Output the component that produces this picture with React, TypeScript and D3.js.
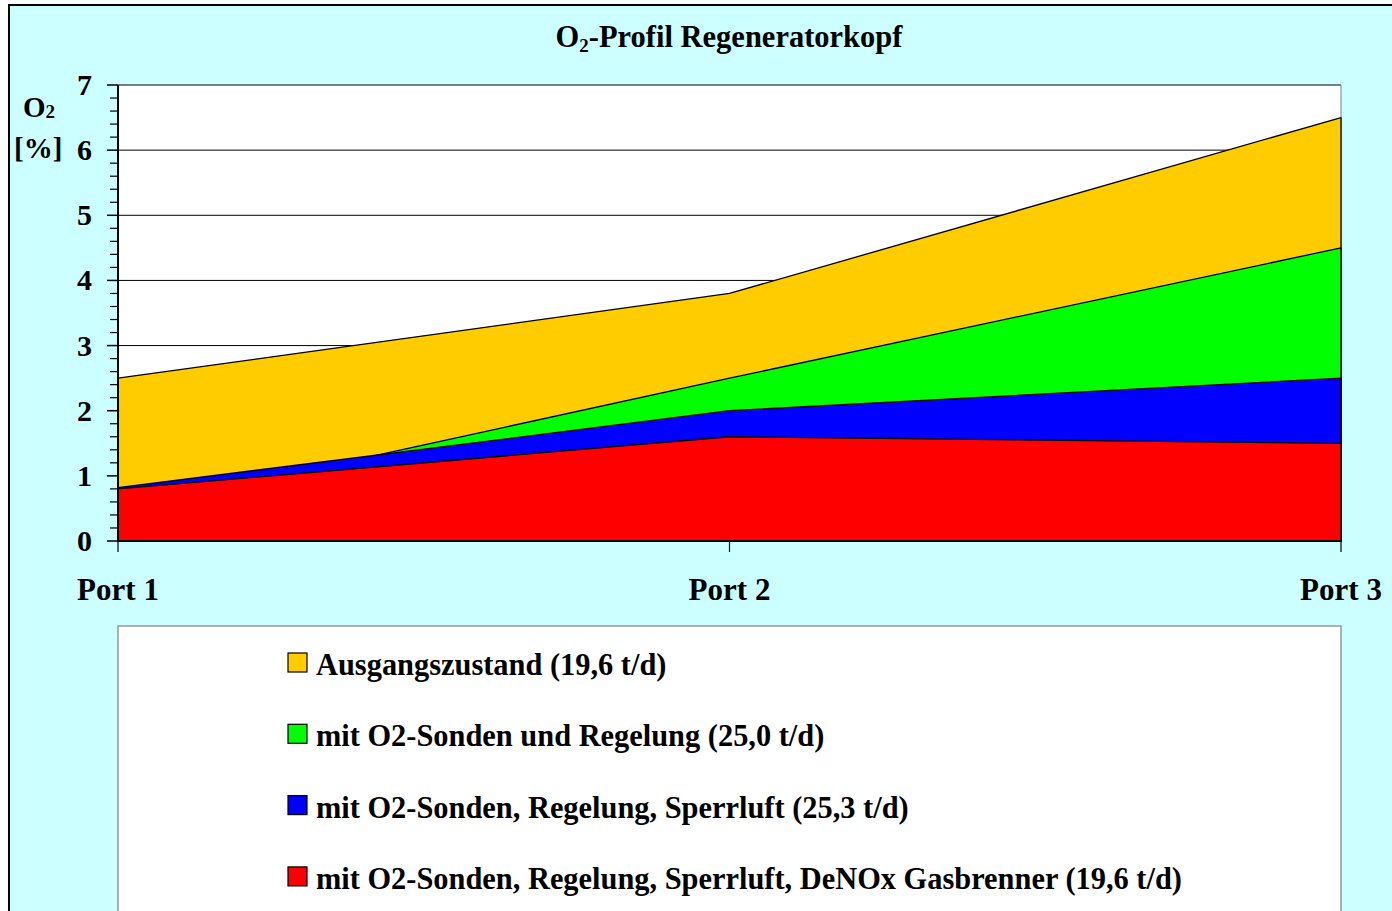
import React from "react";
import * as d3 from "d3";

const ports = ["Port 1", "Port 2", "Port 3"];
const ausgangszustand = [2.5, 3.8, 6.5];
const mitSondenRegelung = [0.45, 2.5, 4.5];
const mitSperrluft = [0.82, 2.0, 2.5];
const mitDeNOx = [0.8, 1.6, 1.5];
const yTicks = [0, 1, 2, 3, 4, 5, 6, 7];

const seriesNames = [
  "Ausgangszustand (19,6 t/d)",
  "mit O2-Sonden und Regelung (25,0 t/d)",
  "mit O2-Sonden, Regelung, Sperrluft (25,3 t/d)",
  "mit O2-Sonden, Regelung, Sperrluft, DeNOx Gasbrenner (19,6 t/d)",
];
const seriesValues = [ausgangszustand, mitSondenRegelung, mitSperrluft, mitDeNOx];
const seriesColors = ["#FFCC00", "#00FF00", "#0000FF", "#FF0000"];

const W = 1392;
const H = 911;
const plotL = 118;
const plotR = 1341;
const plotT = 85;
const plotB = 541;
const font = "'Liberation Serif', 'Times New Roman', serif";

export default function App() {
  const x = d3.scalePoint<string>().domain(ports).range([plotL, plotR]);
  const y = d3.scaleLinear().domain([0, 7]).range([plotB, plotT]);
  const area = d3
    .area<number>()
    .x((_, i) => x(ports[i]) as number)
    .y0(y(0))
    .y1((d) => y(d));
  const minor = d3.range(0, 7.001, 0.2).filter((v) => Math.abs(v - Math.round(v)) > 1e-6);

  return (
    <svg
      width={W}
      height={H}
      style={{ position: "absolute", left: 0, top: 0, display: "block" }}
      fontFamily={font}
      fontWeight="bold"
    >
      <rect x={9} y={5} width={1500} height={1000} fill="#CCFFFF" stroke="#000" strokeWidth={2} />
      <text x={729} y={47} textAnchor="middle" fontSize={30.5}>
        O<tspan fontSize={19} dy={5}>2</tspan>
        <tspan dy={-5}>-Profil Regeneratorkopf</tspan>
      </text>

      {/* plot area */}
      <rect x={plotL} y={plotT} width={plotR - plotL} height={plotB - plotT} fill="#fff" />
      {yTicks.slice(1).map((t) => (
        <line key={t} x1={plotL} x2={plotR} y1={y(t)} y2={y(t)} stroke="#000" strokeWidth={1} />
      ))}
      <line x1={plotR} x2={plotR} y1={plotT} y2={plotB} stroke="#808080" strokeWidth={1} />

      {seriesValues.map((vals, i) => (
        <path
          key={i}
          d={area(vals) || ""}
          fill={seriesColors[i]}
          stroke="#000"
          strokeWidth={1.3}
          strokeLinejoin="round"
        />
      ))}

      {/* axes */}
      <line x1={plotL} x2={plotL} y1={plotT} y2={plotB} stroke="#000" strokeWidth={2} />
      <line x1={plotL} x2={plotR} y1={plotB} y2={plotB} stroke="#000" strokeWidth={2} />
      {minor.map((v) => (
        <line key={v} x1={110} x2={plotL} y1={y(v)} y2={y(v)} stroke="#000" strokeWidth={1.2} />
      ))}
      {yTicks.map((t) => (
        <g key={t}>
          <line x1={107} x2={plotL} y1={y(t)} y2={y(t)} stroke="#000" strokeWidth={1.5} />
          <text x={92} y={y(t) + 10} textAnchor="end" fontSize={30}>
            {t}
          </text>
        </g>
      ))}
      {ports.map((p) => (
        <g key={p}>
          <line x1={x(p)} x2={x(p)} y1={plotB} y2={plotB + 11} stroke="#000" strokeWidth={1.2} />
          <text x={x(p)} y={600} textAnchor="middle" fontSize={31}>
            {p}
          </text>
        </g>
      ))}

      <text x={23} y={117} fontSize={29}>
        O<tspan fontSize={19} dy={1}>2</tspan>
      </text>
      <text x={14} y={158} fontSize={29}>
        [%]
      </text>

      {/* legend */}
      <rect x={plotL} y={626} width={plotR - plotL} height={400} fill="#fff" stroke="#808080" strokeWidth={1.2} />
      {seriesNames.map((n, i) => {
        const top = 653 + i * 71.3;
        return (
          <g key={n}>
            <rect x={288} y={top} width={19} height={19} fill={seriesColors[i]} stroke="#000" strokeWidth={1.2} />
            <text transform={`translate(316, ${top + 22}) scale(0.95, 1)`} fontSize={32}>
              {n}
            </text>
          </g>
        );
      })}
    </svg>
  );
}
